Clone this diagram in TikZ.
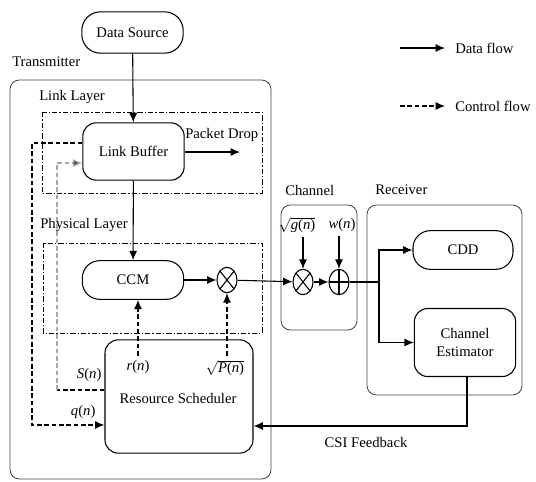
\documentclass[tikz,border=0pt]{standalone}
\usepackage{fontspec}
\setmainfont{Liberation Serif}
\usetikzlibrary{arrows.meta,positioning,shapes.geometric}
\newcommand{\sig}[1]{\textit{#1}(\textit{n})}
\tikzset{
  block/.style={draw,thick,rounded corners=10pt,align=center,minimum width=76pt},
  layer/.style={draw,semithick,dash pattern=on 4pt off 1.5pt on 1pt off 1.5pt},
  frame/.style={draw=black!75,semithick,rounded corners=7pt},
  caption/.style={anchor=west,inner sep=0pt},
  data/.style={thick,-{Latex[length=7pt,width=6pt]}},
  ctrl/.style={thick,dash pattern=on 3.5pt off 2pt,-{Latex[length=7pt,width=6pt]}},
  mix/.style={draw,thick,ellipse,minimum width=15pt,minimum height=19pt,inner sep=0pt},
  otimes/.style={mix,path picture={
      \draw (path picture bounding box.north west) -- (path picture bounding box.south east)
            (path picture bounding box.south west) -- (path picture bounding box.north east);}},
  oplus/.style={mix,path picture={
      \draw (path picture bounding box.north) -- (path picture bounding box.south)
            (path picture bounding box.west) -- (path picture bounding box.east);}}
}
\begin{document}
\begin{tikzpicture}[x=0.75pt,y=-0.75pt,font=\fontsize{11}{13}\selectfont]
    \useasboundingbox (0,0) rectangle (536,482);
    % frames and layers
    \draw[frame] (10,80) rectangle (271,479);
    \draw[layer] (42,112) rectangle (262,193);
    \draw[layer] (43,243) rectangle (262,333);
    \draw[frame] (281,205) rectangle (357,330);
    \draw[frame] (367,205) rectangle (522,395);
    \node[caption] (txt) at (12,62) {Transmitter};
    \node[caption] (linktxt) at (39,97) {Link Layer};
    \node[caption] (phytxt) at (40,225) {Physical Layer};
    \node[caption] (chtxt) at (285,190) {Channel};
    \node[caption] (rxtxt) at (375,190) {Receiver};

    % transmitter
    \node[block,minimum height=31pt,rounded corners=14pt] (src) at (132.5,32.5) {Data Source};
    \node[block,minimum height=43pt] (buf) at (133.5,151.5) {Link Buffer};
    \node[block,minimum height=29pt,rounded corners=13pt] (ccm) at (133,280) {CCM};
    \node[otimes] (mul) at (227,280) {};
    \node[block,minimum width=111pt,minimum height=85pt] (sch) at (179,396.5) {};
    \node (schtxt) at (178,398) {Resource Scheduler};
    \node[caption] (drop) at (185,135) {Packet Drop};
    \coordinate (dropend) at (240,152);
    \node (rn) at (138,367) {\sig{r}};
    \node (pn) at (225,368) {$\sqrt{\mbox{\sig{P}}}$};
    \node[anchor=east,inner sep=1pt] (sn) at (103,375) {\sig{S}};
    \node[anchor=east,inner sep=1pt] (qn) at (97,412) {\sig{q}};

    \draw[data] (src) -- (buf);
    \draw[data] (buf) -- (ccm);
    \draw[data] (buf.east |- dropend) -- (dropend);
    \draw[data] (ccm) -- (mul);
    \draw[ctrl] (rn.north) -- (ccm.south -| rn);
    \draw[ctrl] (pn.north -| mul) -- (mul.south);
    % queue state and scheduling feedback
    \coordinate (qtop) at (32,143);
    \coordinate (qbot) at (32,425);
    \coordinate (stop) at (57,163);
    \coordinate (sbot) at (57,390);
    \draw[ctrl] (buf.west |- qtop) -- (qtop) -- (qbot) -- (sch.west |- qbot);
    \draw[thick,dash pattern=on 3.5pt off 2pt] (sch.west |- sbot) -- (sbot);
    \draw[ctrl,draw=black!35,-{Latex[length=7pt,width=6pt,fill=black!70]}] (sbot) -- (stop) -- (buf.west |- stop);

    % channel
    \node[otimes] (chmul) at (303,282) {};
    \node[oplus] (chadd) at (339,282) {};
    \node (gn) at (297,225) {$\sqrt{\mbox{\sig{g}}}$};
    \node (wn) at (342,225) {\sig{w}};
    \draw[data] (gn.south -| chmul) -- (chmul.north);
    \draw[data] (wn.south -| chadd) -- (chadd.north);
    \draw[data] (mul) -- (chmul);
    \draw[data] (chmul) -- (chadd);

    % receiver
    \node[block,minimum width=75pt,minimum height=29pt,rounded corners=13pt] (cdd) at (463,250) {CDD};
    \node[block,minimum height=51pt] (est) at (465,342.5) {Channel\\Estimator};
    \coordinate (split) at (379,282);
    \draw[thick] (chadd) -- (split);
    \draw[data] (split) |- (cdd.west);
    \draw[data] (split) |- (est.west);
    \coordinate (fb) at (467,426);
    \draw[data] (est.south -| fb) -- (fb) -- (sch.east |- fb);
    \node (csi) at (366,442) {CSI Feedback};

    % legend
    \coordinate (d1) at (400,48);
    \coordinate (d2) at (445,48);
    \coordinate (c1) at (400,106);
    \coordinate (c2) at (445,106);
    \draw[data] (d1) -- (d2);
    \draw[ctrl] (c1) -- (c2);
    \node[caption] (dtxt) at (455,48) {Data flow};
    \node[caption] (ctxt) at (455,106) {Control flow};
\end{tikzpicture}
\end{document}
